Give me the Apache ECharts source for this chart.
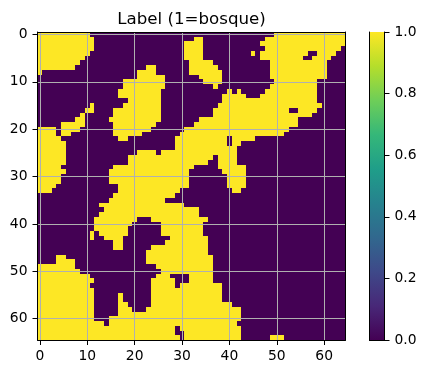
<!DOCTYPE html>
<html><head><meta charset="utf-8">
<style>html,body{margin:0;padding:0;background:#fff}#c{width:425px;height:374px}</style>
<script src="https://cdn.jsdelivr.net/npm/echarts@6/dist/echarts.min.js"></script>
</head><body><div id="c"></div>
<script>
const chartTitle = 'Label (1=bosque)';
const gridSize = 65;
const majorTicks = [0,10,20,30,40,50,60];
const colorbarTicks = [0,0.2,0.4,0.6,0.8,1];
const viridis = ['#440154','#482878','#3e4989','#31688e','#26828e','#1f9e89','#35b779','#6ece58','#b5de2b','#fde725'];
// Each row lists inclusive [from,to] column runs where Label = 1
const forestRuns = [
[[0,10],[50,64]],
[[0,11],[33,34],[48,64]],
[[0,11],[31,34],[47,64]],
[[0,11],[31,34],[48,63]],
[[0,10],[31,34],[45,45],[47,56],[59,62]],
[[0,9],[31,34],[47,55],[58,61]],
[[0,8],[32,36],[49,60]],
[[0,7],[23,24],[32,37],[49,60]],
[[0,0],[21,24],[32,38],[49,60]],
[[21,26],[34,38],[49,60]],
[[18,26],[35,38],[50,58]],
[[18,26],[37,37],[49,58]],
[[17,25],[40,40],[42,42],[48,58]],
[[17,25],[39,43],[47,58]],
[[19,25],[39,58]],
[[11,11],[18,25],[38,59]],
[[10,11],[16,25],[37,52],[55,58]],
[[9,9],[16,25],[37,57]],
[[8,9],[15,25],[34,54]],
[[5,9],[16,24],[33,54]],
[[0,3],[5,8],[16,23],[31,52]],
[[0,3],[5,6],[16,21],[30,51]],
[[0,4],[17,18],[29,39],[41,45]],
[[0,5],[29,39],[41,42]],
[[0,5],[29,41]],
[[0,5],[21,24],[26,41]],
[[0,5],[19,36],[38,41]],
[[0,5],[19,35],[38,41]],
[[0,4],[16,32],[38,43]],
[[0,5],[15,31],[39,43]],
[[0,4],[15,31],[40,43]],
[[0,4],[15,31],[40,43]],
[[0,3],[17,31],[40,43]],
[[0,2],[17,29],[41,42]],
[[16,28]],
[[15,26]],
[[13,30]],
[[14,33]],
[[13,33]],
[[12,20],[24,35]],
[[12,19],[26,34]],
[[12,18],[26,34]],
[[11,11],[13,18],[26,34]],
[[11,11],[14,17],[28,35]],
[[16,17],[27,35]],
[[16,17],[24,35]],
[[23,35]],
[[4,5],[23,36]],
[[4,7],[23,36]],
[[0,7],[25,36]],
[[0,8],[26,36]],
[[0,10],[25,27],[32,36]],
[[0,11],[24,28],[32,36]],
[[0,10],[24,28],[30,38]],
[[0,11],[24,38]],
[[0,11],[17,17],[24,38]],
[[0,11],[17,17],[24,38]],
[[0,11],[17,18],[24,40]],
[[0,11],[17,19],[23,42]],
[[0,11],[17,42]],
[[0,11],[15,42]],
[[0,13],[15,41]],
[[0,28],[30,42]],
[[0,28],[31,42]],
[[0,29],[31,42],[49,51]]
];

const labels = Array.from({length:gridSize},(_,i)=>String(i));
const cells = [];
forestRuns.forEach((runs,r)=>{
  for(let c=0;c<gridSize;c++){
    cells.push([c,r,runs.some(([a,b])=>c>=a&&c<=b)?1:0]);
  }
});
const tickColor='#000', textColor='#000', fontFamily='"DejaVu Sans"', fs=13.89;
const onMajor=(i)=>i%10===0;
const gridLines=[...majorTicks.map(v=>({xAxis:v})),...majorTicks.map(v=>({yAxis:v}))];
function drawCell(params,api){
  const p=api.coord([api.value(0),api.value(1)]);
  const s=api.size([1,1]);
  const x0=Math.round(p[0]-s[0]/2), x1=Math.round(p[0]+s[0]/2);
  const y0=Math.round(p[1]-s[1]/2), y1=Math.round(p[1]+s[1]/2);
  return {type:'rect',shape:{x:x0,y:y0,width:x1-x0,height:y1-y0},style:{fill:api.visual('color')},silent:true};
}
const chart=echarts.init(document.getElementById('c'),null,{renderer:'canvas'});
chart.setOption({
  animation:false,
  backgroundColor:'#fff',
  title:{text:chartTitle,left:186.5,top:6,textAlign:'center',textStyle:{fontFamily,fontSize:16.67,fontWeight:'normal',color:'#000'}},
  grid:[
    {left:37.5,top:32,width:308,height:308,show:true,backgroundColor:viridis[0],borderWidth:0},
    {left:369.5,top:32,width:15,height:308}
  ],
  xAxis:[
    {gridIndex:0,type:'category',data:labels,position:'bottom',
      axisLine:{show:true,lineStyle:{color:tickColor,width:1}},
      axisTick:{show:true,alignWithLabel:true,interval:(i)=>onMajor(i),length:5,lineStyle:{color:tickColor}},
      axisLabel:{interval:(i)=>onMajor(i),margin:9,fontFamily,fontSize:fs,color:textColor},splitLine:{show:false},z:5},
    {gridIndex:0,type:'category',data:labels,position:'top',axisLine:{show:true,lineStyle:{color:tickColor,width:1}},axisTick:{show:false},axisLabel:{show:false},splitLine:{show:false},z:5},
    {gridIndex:1,type:'category',data:['c'],position:'bottom',axisLine:{show:true,lineStyle:{color:tickColor,width:1}},axisTick:{show:false},axisLabel:{show:false},z:5},
    {gridIndex:1,type:'category',data:['c'],position:'top',axisLine:{show:true,lineStyle:{color:tickColor,width:1}},axisTick:{show:false},axisLabel:{show:false},z:5}
  ],
  yAxis:[
    {gridIndex:0,type:'category',data:labels,inverse:true,position:'left',
      axisLine:{show:true,lineStyle:{color:tickColor,width:1}},
      axisTick:{show:true,alignWithLabel:true,interval:(i)=>onMajor(i),length:5,lineStyle:{color:tickColor}},
      axisLabel:{interval:(i)=>onMajor(i),margin:10,fontFamily,fontSize:fs,color:textColor},splitLine:{show:false},z:5},
    {gridIndex:0,type:'category',data:labels,inverse:true,position:'right',axisLine:{show:true,lineStyle:{color:tickColor,width:1}},axisTick:{show:false},axisLabel:{show:false},splitLine:{show:false},z:5},
    {gridIndex:1,type:'value',min:0,max:1,interval:0.2,position:'right',
      axisLine:{show:true,onZero:false,lineStyle:{color:tickColor,width:1}},
      axisTick:{show:true,length:5,lineStyle:{color:tickColor}},
      axisLabel:{margin:10,fontFamily,fontSize:fs,color:textColor,formatter:(v)=>v.toFixed(1)},splitLine:{show:false},z:5},
    {gridIndex:1,type:'value',min:0,max:1,interval:0.2,position:'left',
      axisLine:{show:true,onZero:false,lineStyle:{color:tickColor,width:1}},
      axisTick:{show:false},axisLabel:{show:false},splitLine:{show:false},z:5}
  ],
  visualMap:{show:false,type:'continuous',min:0,max:1,seriesIndex:0,dimension:2,inRange:{color:viridis}},
  series:[
    {type:'custom',xAxisIndex:0,yAxisIndex:0,data:cells,progressive:0,silent:true,renderItem:drawCell,encode:{x:0,y:1},
      markLine:{silent:true,animation:false,symbol:'none',label:{show:false},precision:6,
        lineStyle:{color:'#b0b0b0',width:1,type:'solid'},data:gridLines}},
    {type:'bar',xAxisIndex:2,yAxisIndex:2,data:[colorbarTicks[colorbarTicks.length-1]],barWidth:'100%',silent:true,
      itemStyle:{color:new echarts.graphic.LinearGradient(0,1,0,0,viridis.map((c,i)=>({offset:i/(viridis.length-1),color:c})))}}
  ]
});
</script></body></html>
